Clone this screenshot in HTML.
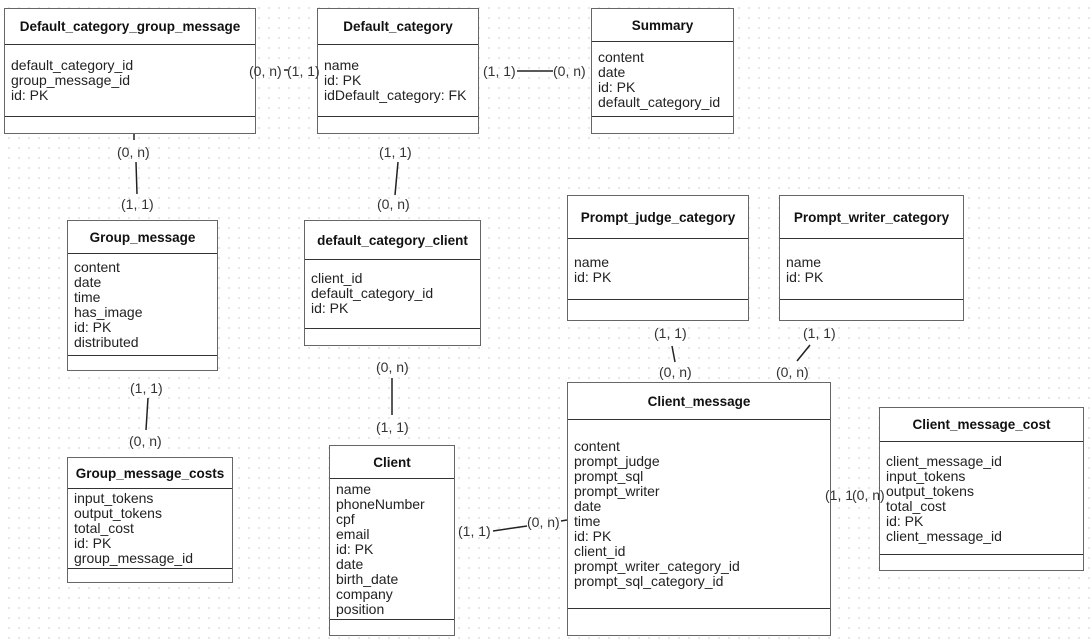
<!DOCTYPE html>
<html><head><meta charset="utf-8"><style>
body{margin:0;width:1090px;height:639px;overflow:hidden;background:#fff;
background-image:radial-gradient(circle,#d0d0d0 0.6px,transparent 1px);background-size:10px 10px;background-position:4px 3px;
font-family:"Liberation Sans",sans-serif;color:#222;position:relative}
.b{position:absolute;background:#fff;border:1px solid #666;box-sizing:border-box}
.h{position:absolute;left:0;right:0;top:0;border-bottom:1px solid #333;font-weight:bold;font-size:13.5px;display:flex;align-items:center;justify-content:center;color:#111}
.a{position:absolute;left:6px;font-size:14px;line-height:15px;white-space:pre;color:#222}
.s{position:absolute;left:0;right:0;border-top:1px solid #333}
.l{position:absolute;font-size:14px;color:#333;white-space:pre;line-height:15px}
svg{position:absolute;left:0;top:0}
</style></head><body>
<svg width="1090" height="639"><g stroke="#222" stroke-width="1.5">
<line x1="284" y1="70" x2="288" y2="70"/>
<line x1="517" y1="71" x2="553" y2="71"/>
<line x1="134" y1="133" x2="134" y2="140"/>
<line x1="136" y1="162" x2="137" y2="194"/>
<line x1="398" y1="162" x2="395" y2="195"/>
<line x1="148" y1="398" x2="146" y2="430"/>
<line x1="392" y1="378" x2="392" y2="415"/>
<line x1="493" y1="531" x2="527" y2="526"/>
<line x1="561" y1="521" x2="567" y2="520"/>
<line x1="672" y1="346" x2="675" y2="362"/>
<line x1="810" y1="345" x2="797" y2="361"/>
</g></svg>

<div class="b" style="left:4px;top:8px;width:252px;height:126px"><div class="h" style="height:35px">Default_category_group_message</div><div class="a" style="top:49px">default_category_id
group_message_id
id: PK</div><div class="s" style="top:107px"></div></div>

<div class="b" style="left:317px;top:8px;width:162px;height:126px"><div class="h" style="height:35px">Default_category</div><div class="a" style="top:49px">name
id: PK
idDefault_category: FK</div><div class="s" style="top:107px"></div></div>

<div class="b" style="left:591px;top:8px;width:143px;height:126px"><div class="h" style="height:32px">Summary</div><div class="a" style="top:41px">content
date
id: PK
default_category_id</div><div class="s" style="top:107px"></div></div>

<div class="b" style="left:67px;top:220px;width:151px;height:151px"><div class="h" style="height:32px">Group_message</div><div class="a" style="top:39px">content
date
time
has_image
id: PK
distributed</div><div class="s" style="top:134px"></div></div>

<div class="b" style="left:304px;top:220px;width:177px;height:126px"><div class="h" style="height:38px">default_category_client</div><div class="a" style="top:50px">client_id
default_category_id
id: PK</div><div class="s" style="top:107px"></div></div>

<div class="b" style="left:567px;top:195px;width:182px;height:126px"><div class="h" style="height:42px">Prompt_judge_category</div><div class="a" style="top:59px">name
id: PK</div><div class="s" style="top:103px"></div></div>

<div class="b" style="left:779px;top:195px;width:185px;height:126px"><div class="h" style="height:42px">Prompt_writer_category</div><div class="a" style="top:59px">name
id: PK</div><div class="s" style="top:103px"></div></div>

<div class="b" style="left:67px;top:457px;width:166px;height:126px"><div class="h" style="height:30px">Group_message_costs</div><div class="a" style="top:33px">input_tokens
output_tokens
total_cost
id: PK
group_message_id</div><div class="s" style="top:110px"></div></div>

<div class="b" style="left:329px;top:445px;width:126px;height:191px"><div class="h" style="height:32px">Client</div><div class="a" style="top:36px">name
phoneNumber
cpf
email
id: PK
date
birth_date
company
position</div><div class="s" style="top:173px"></div></div>

<div class="b" style="left:567px;top:382px;width:264px;height:254px"><div class="h" style="height:36px">Client_message</div><div class="a" style="top:56px">content
prompt_judge
prompt_sql
prompt_writer
date
time
id: PK
client_id
prompt_writer_category_id
prompt_sql_category_id</div><div class="s" style="top:225px"></div></div>

<div class="b" style="left:879px;top:407px;width:205px;height:164px"><div class="h" style="height:33px">Client_message_cost</div><div class="a" style="top:46px">client_message_id
input_tokens
output_tokens
total_cost
id: PK
client_message_id</div><div class="s" style="top:146px"></div></div>

<div class="l" style="left:249px;top:64px">(0, n)</div>
<div class="l" style="left:287px;top:64px">(1, 1)</div>
<div class="l" style="left:483px;top:64px">(1, 1)</div>
<div class="l" style="left:553px;top:64px">(0, n)</div>
<div class="l" style="left:117px;top:145px">(0, n)</div>
<div class="l" style="left:121px;top:197px">(1, 1)</div>
<div class="l" style="left:379px;top:145px">(1, 1)</div>
<div class="l" style="left:377px;top:197px">(0, n)</div>
<div class="l" style="left:130px;top:381px">(1, 1)</div>
<div class="l" style="left:129px;top:434px">(0, n)</div>
<div class="l" style="left:376px;top:360px">(0, n)</div>
<div class="l" style="left:376px;top:420px">(1, 1)</div>
<div class="l" style="left:458px;top:524px">(1, 1)</div>
<div class="l" style="left:527px;top:515px">(0, n)</div>
<div class="l" style="left:654px;top:326px">(1, 1)</div>
<div class="l" style="left:659px;top:365px">(0, n)</div>
<div class="l" style="left:803px;top:326px">(1, 1)</div>
<div class="l" style="left:776px;top:365px">(0, n)</div>
<div class="l" style="left:825px;top:488px">(1, 1</div>
<div class="l" style="left:852px;top:488px">(0, n)</div>
</body></html>
